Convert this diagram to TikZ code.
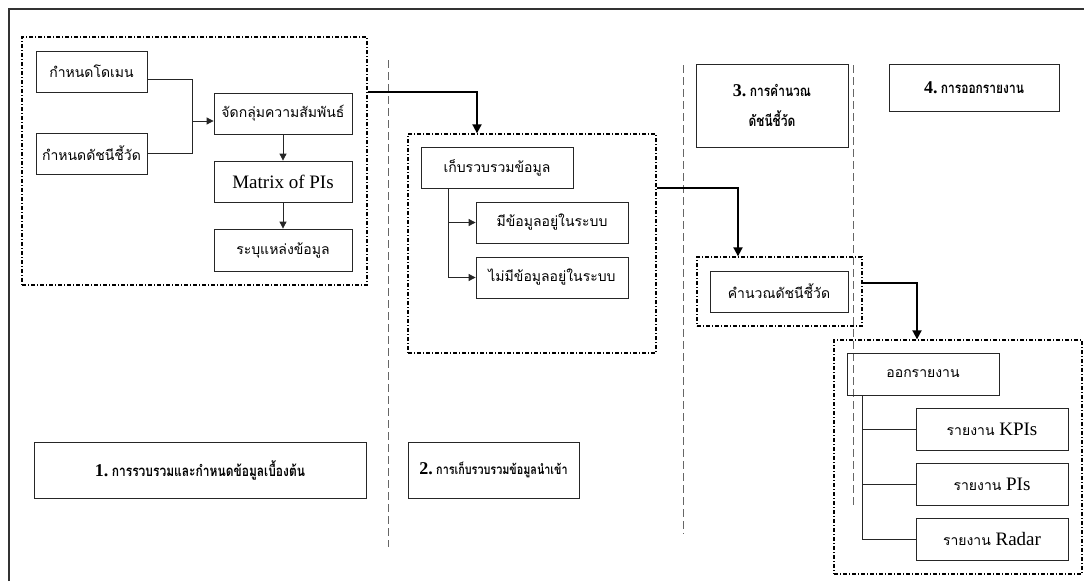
\documentclass[tikz,border=0pt]{standalone}
\usepackage{fontspec}
\setmainfont{Liberation Serif}
\newfontfamily\thai[Script=Thai]{Loma}
\newfontfamily\thaic[Script=Thai,FakeStretch=0.8]{Loma}
\usetikzlibrary{arrows.meta,calc}
\tikzset{
  box/.style={draw=black!85,line width=0.8pt,inner sep=0pt,align=center,font=\thai\fontsize{14}{16}\selectfont},
  grp/.style={draw=black,line width=1.3pt,dash pattern=on 4pt off 2pt on 1pt off 2pt,inner sep=0pt},
  ttl/.style={draw=black!85,line width=0.9pt,inner sep=0pt,align=center},
  ln/.style={draw=black!85,line width=0.8pt},
  arr/.style={ln,-{Triangle[length=7pt,width=7pt]}},
  tarr/.style={draw=black,line width=1.8pt,-{Triangle[length=9pt,width=9pt]}},
  sep/.style={draw=black!60,line width=0.7pt,dash pattern=on 8pt off 4pt},
  frame/.style={draw=black!80,line width=1.2pt},
}
\newcommand{\tb}[1]{{\thaic\bfseries\fontsize{15}{16}\selectfont #1}}
\newcommand{\nb}[1]{{\bfseries\fontsize{18}{20}\selectfont #1}}
\begin{document}
\begin{tikzpicture}[x=1pt,y=-1pt]
\useasboundingbox (0,0) rectangle (1084,581);
\draw[frame] (9,581) -- (9,9) -- (1084,9);
% separators
\coordinate (s1t) at (388,60); \coordinate (s1b) at (388,547);
\coordinate (s2t) at (683,65); \coordinate (s2b) at (683,534);
\coordinate (s3t) at (853,65); \coordinate (s3b) at (853,505);
\draw[sep] (s1t) -- (s1b);
\draw[sep] (s2t) -- (s2b);
\draw[sep] (s3t) -- (s3b);
% group 1
\node[grp,minimum width=345pt,minimum height=248pt] (g1) at (194.5,161) {};
\node[box,minimum width=111pt,minimum height=41pt] (bdom) at (91.5,71.5) {กำหนดโดเมน};
\node[box,minimum width=111pt,minimum height=41pt] (bind) at (91.5,153.5) {กำหนดดัชนีชี้วัด};
\node[box,minimum width=138pt,minimum height=41pt] (bgrp) at (283,113.5) {จัดกลุ่มความสัมพันธ์};
\node[box,minimum width=138pt,minimum height=41pt,font=\fontsize{19}{22}\selectfont] (bmat) at (283,181.5) {Matrix of PIs};
\node[box,minimum width=138pt,minimum height=42pt] (bsrc) at (283,250) {ระบุแหล่งข้อมูล};
\coordinate (j1) at (192,121);
\draw[ln] ([yshift=-7.5pt]bdom.east) -| (j1);
\draw[ln] (bind.east) -| (j1);
\draw[arr] (j1) -- (j1 -| bgrp.west);
\draw[arr] (bgrp) -- (bmat);
\draw[arr] (bmat) -- (bsrc);
% group 2
\node[grp,minimum width=248pt,minimum height=219pt] (g2) at (532,243.5) {};
\node[box,minimum width=152pt,minimum height=41pt] (bcol) at (497,167.5) {เก็บรวบรวมข้อมูล};
\node[box,minimum width=152pt,minimum height=41pt] (bhas) at (552,222.5) {มีข้อมูลอยู่ในระบบ};
\node[box,minimum width=152pt,minimum height=41pt] (bno) at (552,277.5) {ไม่มีข้อมูลอยู่ในระบบ};
\coordinate (bt) at ([xshift=-49pt]bcol.south);
\draw[arr] (bt) |- (bno.west);
\draw[arr] (bt |- bhas.west) -- (bhas.west);
% titles
\node[ttl,minimum width=332pt,minimum height=56pt] (t1) at (200,470) {\nb{1.} \tb{การรวบรวมและกำหนดข้อมูลเบื้องต้น}};
\node[ttl,minimum width=171pt,minimum height=56pt] (t2) at (493.5,470) {\nb{2.} {\thaic\bfseries\fontsize{13.5}{16}\selectfont การเก็บรวบรวมข้อมูลนำเข้า}};
\node[ttl,minimum width=152pt,minimum height=83pt] (t3) at (772,105.5) {\nb{3.} \tb{การคำนวณ}\\[12pt]\tb{ดัชนีชี้วัด}};
\node[ttl,minimum width=170pt,minimum height=47pt] (t4) at (974,87.5) {\nb{4.} \tb{การออกรายงาน}};
% group 3
\node[grp,minimum width=165pt,minimum height=69pt] (g3) at (779.5,291.5) {};
\node[box,minimum width=138pt,minimum height=41pt] (bcalc) at (779,291.5) {คำนวณดัชนีชี้วัด};
% group 4
\node[grp,minimum width=248pt,minimum height=234pt] (g4) at (958,457) {};
\node[box,minimum width=152pt,minimum height=42pt] (brep) at (923,374) {ออกรายงาน};
\node[box,minimum width=152pt,minimum height=42pt] (bkpi) at (992,429) {รายงาน {\rmfamily\fontsize{19}{22}\selectfont KPIs}};
\node[box,minimum width=152pt,minimum height=42pt] (bpi) at (992,484) {รายงาน {\rmfamily\fontsize{19}{22}\selectfont PIs}};
\node[box,minimum width=152pt,minimum height=42pt] (brad) at (992,539) {รายงาน {\rmfamily\fontsize{19}{22}\selectfont Radar}};
\coordinate (rt) at ([xshift=-61pt]brep.south);
\draw[ln] (rt) |- (brad.west);
\draw[ln] (rt |- bkpi.west) -- (bkpi.west);
\draw[ln] (rt |- bpi.west) -- (bpi.west);
% thick flow arrows
\draw[tarr] ([yshift=69pt]g1.east) -| ([xshift=-55pt]g2.north);
\draw[tarr] ([yshift=55.5pt]g2.east) -| ([xshift=-41.5pt]g3.north);
\draw[tarr] ([yshift=8.5pt]g3.east) -| ([xshift=-41pt]g4.north);
\end{tikzpicture}
\end{document}
